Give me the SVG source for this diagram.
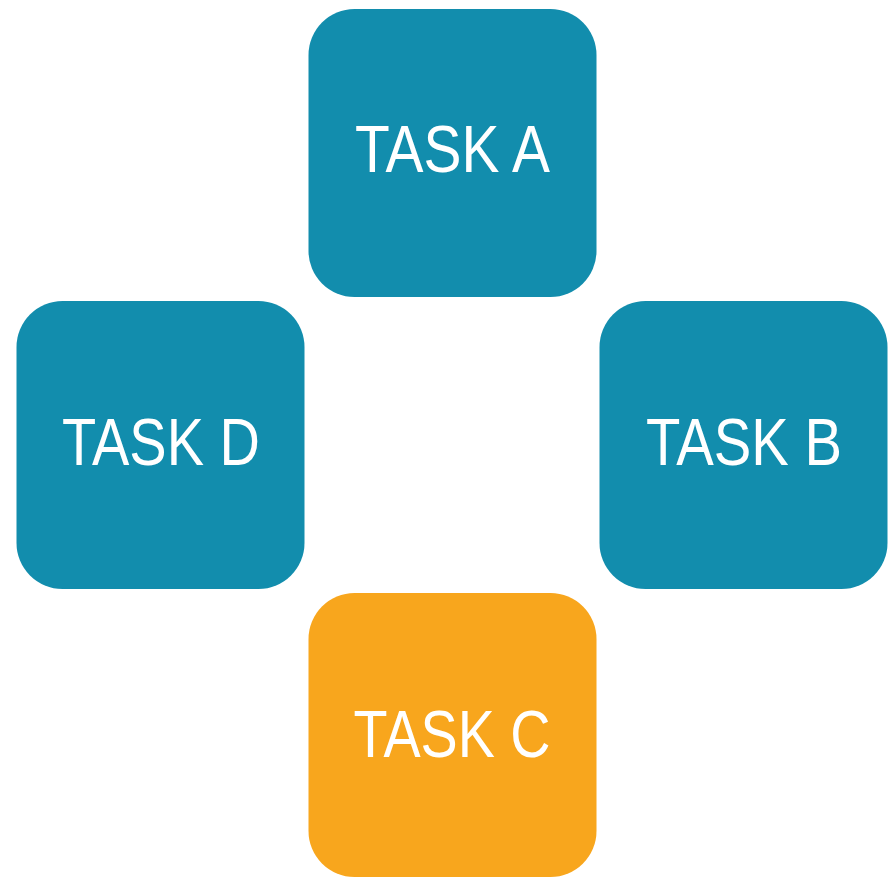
<svg xmlns="http://www.w3.org/2000/svg" width="896" height="877" viewBox="0 0 896 877">
<style>
.box{fill:#128DAD}
.hl{fill:#F8A61D}
.lbl{fill:#ffffff;font-family:"Liberation Sans",Arial,sans-serif;font-size:66px;text-anchor:middle}
</style>
<rect width="896" height="877" fill="#ffffff"/>
<g id="connectors"></g>
<g id="taskA"><rect class="box" x="308.5" y="9" width="288" height="288" rx="46"/><text class="lbl" x="452.5" y="172" textLength="195" lengthAdjust="spacingAndGlyphs">TASK A</text></g>
<g id="taskD"><rect class="box" x="16.5" y="301" width="288" height="288" rx="46"/><text class="lbl" x="161" y="465" textLength="198" lengthAdjust="spacingAndGlyphs">TASK D</text></g>
<g id="taskB"><rect class="box" x="599.5" y="301" width="288" height="288" rx="46"/><text class="lbl" x="744" y="465" textLength="196" lengthAdjust="spacingAndGlyphs">TASK B</text></g>
<g id="taskC"><rect class="hl" x="308.5" y="593" width="288" height="284" rx="46"/><text class="lbl" x="452" y="757" textLength="197" lengthAdjust="spacingAndGlyphs">TASK C</text></g>
</svg>
